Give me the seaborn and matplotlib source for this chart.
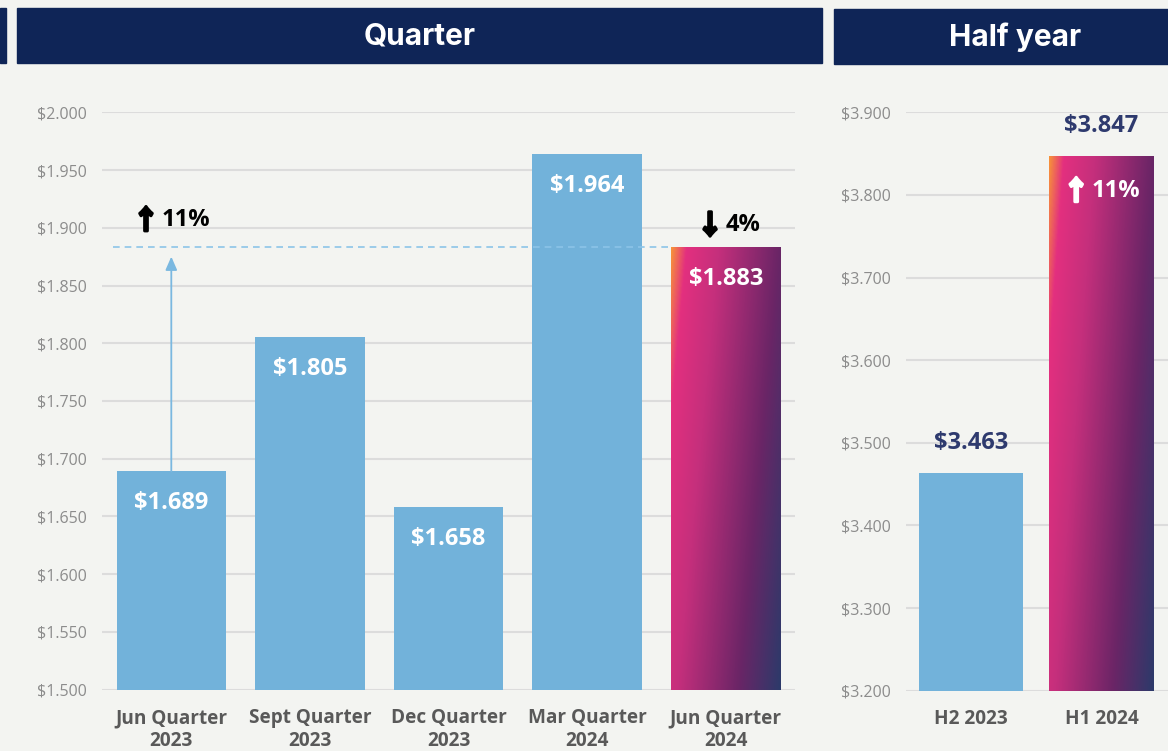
import matplotlib.pyplot as plt
import matplotlib.patheffects as pe
import seaborn as sns
import numpy as np
from matplotlib.colors import LinearSegmentedColormap
from matplotlib.patches import Rectangle

# data
quarters = ["Jun Quarter\n2023", "Sept Quarter\n2023", "Dec Quarter\n2023",
            "Mar Quarter\n2024", "Jun Quarter\n2024"]
quarter_vals = [1.689, 1.805, 1.658, 1.964, 1.883]
quarter_ticks = [1.500, 1.550, 1.600, 1.650, 1.700, 1.750, 1.800, 1.850,
                 1.900, 1.950, 2.000]

halves = ["H2 2023", "H1 2024"]
half_vals = [3.463, 3.847]
half_ticks = [3.200, 3.300, 3.400, 3.500, 3.600, 3.700, 3.800, 3.900]

yoy_change = "↑ 11%"
qoq_change = "↓ 4%"
half_change = "↑ 11%"

BG = "#f3f4f1"
NAVY = "#0f2557"
BLUE = "#72b2da"
GRID = "#dcdcdc"

sns.set_style("whitegrid", {"axes.facecolor": BG, "figure.facecolor": BG,
                            "grid.color": GRID, "axes.edgecolor": BG})
plt.rcParams["font.family"] = ["Open Sans", "DejaVu Sans"]

grad = LinearSegmentedColormap.from_list(
    "brand", [(0, "#f7923a"), (0.1, "#e3307f"), (0.32, "#c42f7c"),
              (0.72, "#6a2566"), (1, "#2c3a6a")])


def gradient_bar(ax, patch):
    x0, w, top = patch.get_x(), patch.get_width(), patch.get_height()
    bot = ax.get_ylim()[0]
    u = np.linspace(0, 1, 200)[None, :]
    v = np.linspace(0, 1, 200)[:, None]
    t = (0.8 * u + 0.3 * (1 - v)) / 1.1
    xl, yl = ax.get_xlim(), ax.get_ylim()
    im = ax.imshow(t, cmap=grad, vmin=0, vmax=1, origin="lower", aspect="auto",
                   extent=(x0, x0 + w, bot, top), zorder=patch.get_zorder() + 0.1)
    im.set_clip_path(patch)
    patch.set_facecolor("none")
    ax.set_xlim(xl)
    ax.set_ylim(yl)


def change_label(ax, x, y, label, color, dy=0, gap=2):
    # heavy arrow glyph + percentage, centred together on x
    arrow, pct = label.split(" ")
    fig = ax.figure
    r = fig.canvas.get_renderer()
    a = ax.annotate(arrow, (x, y), xytext=(0, dy - 1), textcoords="offset pixels",
                    ha="right", va="center", color=color, fontsize=19,
                    fontweight="bold", family=["Noto Sans CJK SC", "DejaVu Sans"],
                    path_effects=[pe.withStroke(linewidth=2.2, foreground=color)])
    p = ax.annotate(pct, (x, y), xytext=(0, dy), textcoords="offset pixels",
                    ha="left", va="center", color=color, fontsize=17,
                    fontweight="bold")
    wa = a.get_window_extent(r).width
    wp = p.get_window_extent(r).width
    left = -(wa + gap + wp) / 2
    a.set_position((left + wa, dy - 1))
    p.set_position((left + wa + gap, dy))


def style_axes(ax, ticks):
    ax.set_ylim(ticks[0] - 0.0005 * (ticks[-1] - ticks[0]),
                ticks[-1] + 0.0005 * (ticks[-1] - ticks[0]))
    ax.set_yticks(ticks)
    ax.set_yticklabels([f"${t:.3f}" for t in ticks], color="#8c8c8c", fontsize=11.5)
    ax.tick_params(axis="y", length=0, pad=11)
    ax.tick_params(axis="x", length=0, pad=13)
    for lab in ax.get_xticklabels():
        lab.set_fontweight("bold")
        lab.set_fontsize(13.7)
        lab.set_color("#595959")
        lab.set_linespacing(1.22)
    ax.grid(axis="x", visible=False)
    ax.grid(axis="y", linewidth=1.5, color=GRID)
    ax.set_xlabel("")
    ax.set_ylabel("")
    for s in ax.spines.values():
        s.set_visible(False)
    ax.set_axisbelow(True)


fig = plt.figure(figsize=(11.68, 7.51), dpi=100)

# headers
for (x, y, w, h) in [(0, 8, 6, 55), (17, 8, 805, 55), (834, 9, 334, 55)]:
    fig.patches.append(Rectangle((x / 1168, 1 - (y + h) / 751), w / 1168, h / 751,
                                 transform=fig.transFigure, color=NAVY, zorder=0))
fig.text(420 / 1168, 1 - 36 / 751, "Quarter", color="white", fontsize=21.5,
         fontweight="bold", family=["Inter", "DejaVu Sans"], ha="center", va="center")
fig.text(1015 / 1168, 1 - 37 / 751, "Half year", color="white", fontsize=21.5,
         fontweight="bold", family=["Inter", "DejaVu Sans"], ha="center", va="center")

# quarter panel
ax1 = fig.add_axes([102 / 1168, 61 / 751, 693 / 1168, 578 / 751])
sns.barplot(x=quarters, y=quarter_vals, color=BLUE, width=0.79, saturation=1,
            linewidth=0, ax=ax1)
ax1.set_xlim(-0.5, 4.5)
style_axes(ax1, quarter_ticks)
gradient_bar(ax1, ax1.patches[-1])

for i, v in enumerate(quarter_vals):
    ax1.annotate(f"${v:.3f}", (i, v), xytext=(0, -32), textcoords="offset pixels",
                 ha="center", va="center", color="white", fontsize=17, fontweight="bold")

ax1.hlines(quarter_vals[-1], -0.42, len(quarter_vals) - 1 - 0.395, colors="#8cc4e8",
           linestyles=(0, (4, 3)), linewidth=1.2, zorder=1)
ax1.annotate("", xy=(0, 1.875), xytext=(0, quarter_vals[0]),
             arrowprops=dict(arrowstyle="-|>,head_length=0.8,head_width=0.35",
                             color="#7ab8e0", lw=1.3, shrinkA=0, shrinkB=0))
change_label(ax1, 0, 1.9065, yoy_change, "black")
change_label(ax1, len(quarter_vals) - 1 + 0.02, 1.9020, qoq_change, "black")

# half year panel
ax2 = fig.add_axes([906 / 1168, 60 / 751, 262 / 1168, 579 / 751])
sns.barplot(x=halves, y=half_vals, color=BLUE, width=0.8, saturation=1,
            linewidth=0, ax=ax2)
ax2.set_xlim(-0.5, 1.51)
style_axes(ax2, half_ticks)
gradient_bar(ax2, ax2.patches[-1])

for i, v in enumerate(half_vals):
    ax2.annotate(f"${v:.3f}", (i, v), xytext=(0, 30), textcoords="offset pixels",
                 ha="center", va="center", color="#2e3a6e", fontsize=17, fontweight="bold")
change_label(ax2, 1, half_vals[1], half_change, "white", dy=-35)

fig.savefig("out.png", dpi=100, facecolor=BG)
